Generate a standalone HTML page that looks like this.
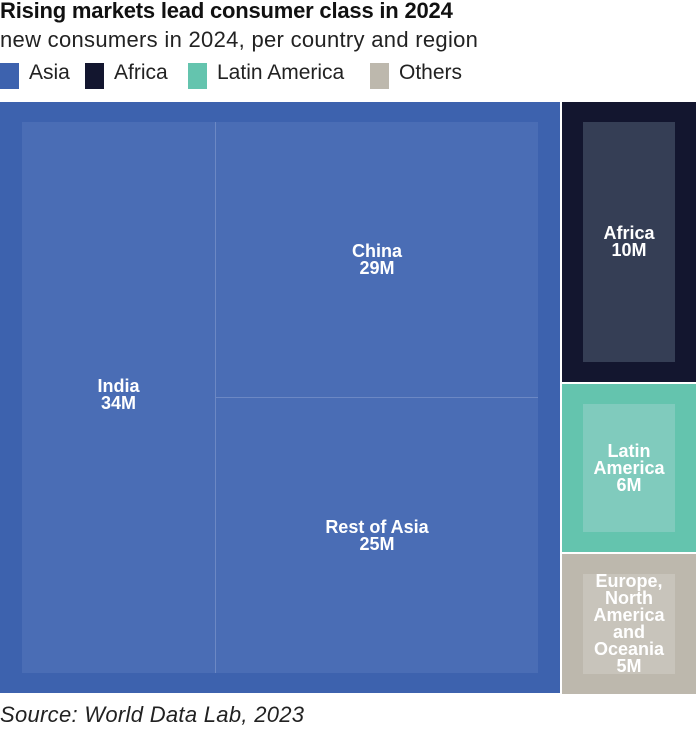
<!DOCTYPE html>
<html><head><meta charset="utf-8"><style>
body{margin:0;width:696px;height:731px;background:#fff;font-family:"Liberation Sans",sans-serif;position:relative;overflow:hidden}
.t{position:absolute;left:0;top:-2px;font-size:22px;font-weight:bold;color:#111;white-space:nowrap;letter-spacing:-0.2px}
.s{position:absolute;left:0;top:27px;font-size:22px;color:#222;white-space:nowrap;letter-spacing:0.3px}
.lg{position:absolute;top:63px;width:19px;height:26px}
.ll{position:absolute;top:61px;font-size:21px;color:#222;white-space:nowrap}
.r{position:absolute;box-sizing:border-box}
.lab{position:absolute;color:#fff;font-weight:bold;font-size:18px;line-height:17px;text-align:center;display:flex;align-items:center;justify-content:center}
.src{position:absolute;left:0;top:702px;font-size:22px;font-style:italic;color:#222;letter-spacing:0.3px}
</style></head><body>
<div class="t">Rising markets lead consumer class in 2024</div>
<div class="s">new consumers in 2024, per country and region</div>
<div class="lg" style="left:0;background:#3d62ae"></div>
<div class="ll" style="left:29px">Asia</div>
<div class="lg" style="left:85px;background:#13162f"></div>
<div class="ll" style="left:114px">Africa</div>
<div class="lg" style="left:188px;background:#64c4ae"></div>
<div class="ll" style="left:217px">Latin America</div>
<div class="lg" style="left:370px;background:#bdb8ad"></div>
<div class="ll" style="left:399px">Others</div>
<div id="tm"></div>
<div class="src">Source: World Data Lab, 2023</div>
<script>
const asiaNames = ["India", "China", "Rest of Asia"];
const asiaValues = [34, 29, 25];
const regionNames = ["Africa", "Latin America", "Europe, North America and Oceania"];
const regionValues = [10, 6, 5];
const regionLabels = ["Africa", "Latin<br>America", "Europe,<br>North<br>America<br>and<br>Oceania"];

const X0 = 0, Y0 = 102, W = 696, H = 591, GAP = 2, PAD = 20;
const outer = [["#3d62ae","#4a6db5"],["#13162f","#353e55"],["#64c4ae","#80cbbd"],["#bdb8ad","#c8c4bb"]];
function rect(x,y,w,h,bg,name){
  const d=document.createElement('div');d.className='r';
  d.style.cssText=`left:${x}px;top:${y}px;width:${w}px;height:${h}px;background:${bg}`;
  
  
  document.body.appendChild(d);return d;
}
function label(x,y,w,h,html,name){
  const d=document.createElement('div');d.className='lab';
  d.style.cssText=`left:${x}px;top:${y}px;width:${w}px;height:${h}px`;
  d.innerHTML=html;
  
  
  document.body.appendChild(d);
}
const asiaTotal = asiaValues.reduce((a,b)=>a+b,0);
const regTotal = regionValues.reduce((a,b)=>a+b,0);
const total = asiaTotal + regTotal;
const asiaW = Math.round(W*asiaTotal/total) - 2;
rect(X0,Y0,asiaW,H,outer[0][0],'asia-block');
const ix = X0+PAD+2, iy = Y0+PAD, iw = asiaW-2*PAD-4, ih = H-2*PAD;
const indiaW = Math.round(iw*asiaValues[0]/asiaTotal) - 6;
rect(ix,iy,iw,ih,'#6c88c4','asia-inner-divider');
rect(ix,iy,indiaW,ih,outer[0][1],'india-cell');
label(ix,iy,indiaW,ih*0.99,`${asiaNames[0]}<br>${asiaValues[0]}M`,'india-label');
const restW = iw-indiaW-1;
const chinaHh = Math.round(ih*asiaValues[1]/(asiaValues[1]+asiaValues[2])*0.93);
rect(ix+indiaW+1,iy,restW,chinaHh,outer[0][1],'china-cell');
label(ix+indiaW+1,iy,restW,chinaHh,`${asiaNames[1]}<br>${asiaValues[1]}M`,'china-label');
rect(ix+indiaW+1,iy+chinaHh+1,restW,ih-chinaHh-1,outer[0][1],'rest-of-asia-cell');
label(ix+indiaW+1,iy+chinaHh+1,restW,ih-chinaHh-1,`${asiaNames[2]}<br>${asiaValues[2]}M`,'rest-of-asia-label');
const rx = X0+asiaW+GAP, rw = W-rx;
let y = Y0;
regionValues.forEach((v,i)=>{
  const h = Math.round((H-GAP*2)*v/regTotal);
  rect(rx,y,rw,h,outer[i+1][0],'region-block-'+i);
  rect(rx+21,y+20,rw-42,h-40,outer[i+1][1],'region-inner-'+i);
  label(rx,y+20,rw,h-40,`${regionLabels[i]}<br>${v}M`,'region-label-'+i);
  y += h + GAP;
});
</script>
</body></html>
